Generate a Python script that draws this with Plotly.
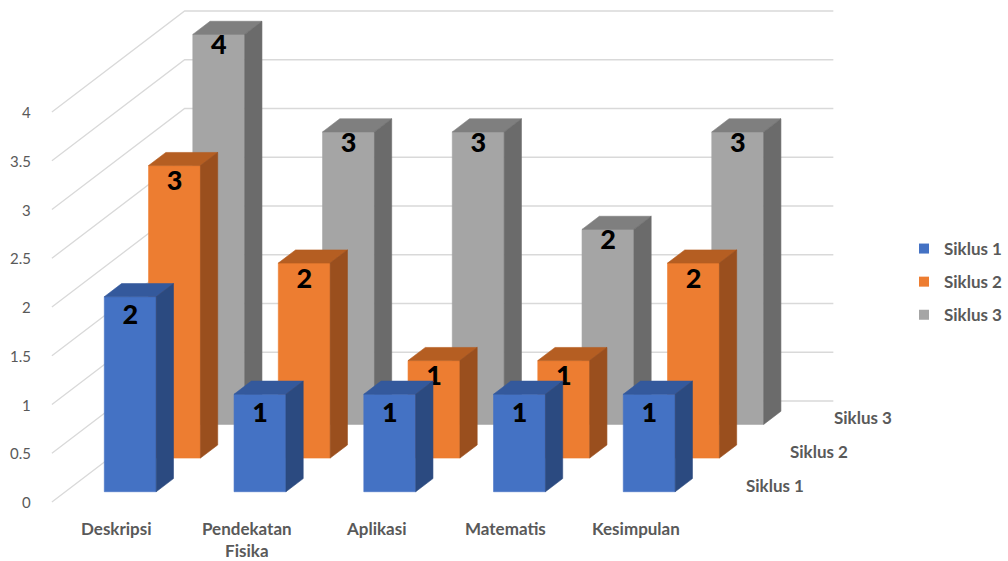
import plotly.graph_objects as go

# ---------------- data ----------------
categories = ["Deskripsi", "Pendekatan<br>Fisika", "Aplikasi", "Matematis", "Kesimpulan"]
series_names = ["Siklus 1", "Siklus 2", "Siklus 3"]
siklus1 = [2, 1, 1, 1, 1]
siklus2 = [3, 2, 1, 1, 2]
siklus3 = [4, 3, 3, 2, 3]
y_ticks = [0, 0.5, 1, 1.5, 2, 2.5, 3, 3.5, 4]
y_tick_labels = ["0", "0.5", "1", "1.5", "2", "2.5", "3", "3.5", "4"]

# ---------------- style ----------------
W, H = 1008, 561
PX_U = 130.0        # pixels per category unit
PX_V = 97.5         # pixels per value unit
DEPTH_X = 133.0     # pixel shift (x) for full depth
DEPTH_Y = 101.0     # pixel shift (y, upward) for full depth
DX = DEPTH_X / PX_U
DY = DEPTH_Y / PX_V
X0_PX, Y0_PX = 52.0, 502.0
BAR_W = 0.40
BAR_D = 0.13
FONT = "Lato"
GREY_TXT = "#595959"
GRID = "#D9D9D9"

colors = {
    "Siklus 1": dict(front="#4472C4", top="#34599C", side="#2B4A80"),
    "Siklus 2": dict(front="#ED7D31", top="#B55E22", side="#9A4F1E"),
    "Siklus 3": dict(front="#A5A5A5", top="#7F7F7F", side="#6B6B6B"),
}
label_offset_px = {"Siklus 1": 21, "Siklus 2": 18, "Siklus 3": 13}

values = {"Siklus 1": siklus1, "Siklus 2": siklus2, "Siklus 3": siklus3}
n_cat = len(categories)
n_ser = len(series_names)


def proj(u, v, z):
    return u + z * DX, v + z * DY


fig = go.Figure()

# ---- walls gridlines ----
gx, gy = [], []
for t in y_ticks:
    a = proj(0, t, 0)
    b = proj(0, t, 1)
    c = proj(n_cat, t, 1)
    gx += [a[0], b[0], c[0], None]
    gy += [a[1], b[1], c[1], None]
fig.add_trace(go.Scatter(x=gx, y=gy, mode="lines", line=dict(color=GRID, width=1.3),
                         hoverinfo="skip", showlegend=False))

# ---- bars (back row first) ----
for si in reversed(range(n_ser)):
    name = series_names[si]
    vals = values[name]
    zc = (si + 0.5) / n_ser
    zf, zb = zc - BAR_D / 2, zc + BAR_D / 2
    faces = {"front": ([], []), "top": ([], []), "side": ([], [])}
    for ci, v in enumerate(vals):
        u0 = ci + 0.5 - BAR_W / 2
        u1 = ci + 0.5 + BAR_W / 2
        polys = {
            "front": [(u0, 0, zf), (u1, 0, zf), (u1, v, zf), (u0, v, zf)],
            "top": [(u0, v, zf), (u1, v, zf), (u1, v, zb), (u0, v, zb)],
            "side": [(u1, 0, zf), (u1, 0, zb), (u1, v, zb), (u1, v, zf)],
        }
        for f, pts in polys.items():
            for p in pts + [pts[0]]:
                x, y = proj(*p)
                faces[f][0].append(x)
                faces[f][1].append(y)
            faces[f][0].append(None)
            faces[f][1].append(None)
    for f in ["front", "top", "side"]:
        col = colors[name][f]
        fig.add_trace(go.Scatter(x=faces[f][0], y=faces[f][1], mode="lines",
                                 fill="toself", fillcolor=col,
                                 line=dict(color=col, width=0.6),
                                 hoverinfo="skip", showlegend=False))
    lx, ly = [], []
    for ci, v in enumerate(vals):
        x, y = proj(ci + 0.5, v, zf)
        lx.append(x)
        ly.append(y - label_offset_px[name] / PX_V)
    fig.add_trace(go.Scatter(x=lx, y=ly, mode="text", text=[str(v) for v in vals],
                             textposition="middle center",
                             textfont=dict(family=FONT, size=27, color="#000000", weight=900),
                             hoverinfo="skip", showlegend=False))

# ---- legend entries ----
for name in series_names:
    fig.add_trace(go.Scatter(x=[None], y=[None], mode="markers", name=name,
                             marker=dict(symbol="square", size=10, color=colors[name]["front"]),
                             legendgroup=name))

annotations = []
for t, lab in zip(y_ticks, y_tick_labels):
    annotations.append(dict(x=(33 - X0_PX) / PX_U, y=t, text=lab, showarrow=False,
                            xanchor="right", yanchor="middle",
                            font=dict(family=FONT, size=15, color=GREY_TXT)))
for ci, cat in enumerate(categories):
    annotations.append(dict(x=ci + 0.5, y=(Y0_PX - 516) / PX_V, text=cat, showarrow=False,
                            xanchor="center", yanchor="top",
                            font=dict(family=FONT, size=17, color=GREY_TXT, weight="bold")))
for si, name in enumerate(series_names):
    zc = (si + 0.5) / n_ser
    x, y = proj(n_cat, 0, zc)
    annotations.append(dict(x=x + 21 / PX_U, y=y, text=name, showarrow=False,
                            xanchor="left", yanchor="middle",
                            font=dict(family=FONT, size=17, color=GREY_TXT, weight="bold")))

fig.update_layout(
    width=W, height=H, autosize=False,
    margin=dict(l=0, r=0, t=0, b=0),
    paper_bgcolor="white", plot_bgcolor="white",
    xaxis=dict(range=[-X0_PX / PX_U, (W - X0_PX) / PX_U], visible=False, fixedrange=True),
    yaxis=dict(range=[(Y0_PX - H) / PX_V, Y0_PX / PX_V], visible=False, fixedrange=True),
    annotations=annotations,
    showlegend=True,
    legend=dict(x=906 / W, y=1 - 231 / H, xanchor="left", yanchor="top",
                font=dict(family=FONT, size=17, color=GREY_TXT, weight="bold"),
                traceorder="grouped", tracegroupgap=8, itemwidth=30,
                bgcolor="rgba(0,0,0,0)"),
    hovermode=False,
)

fig.write_html("out.html")
